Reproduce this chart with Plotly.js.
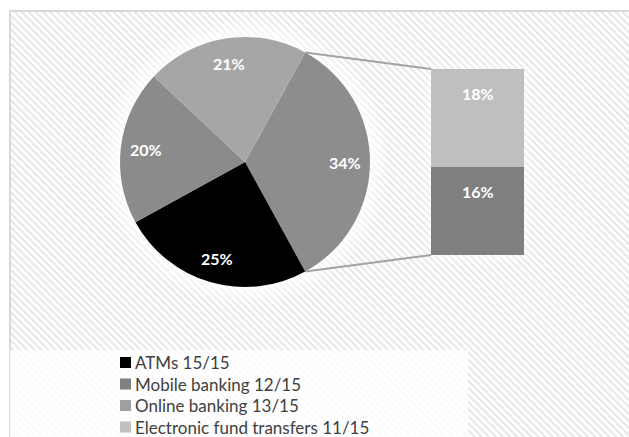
<!DOCTYPE html>
<html>
<head>
<meta charset="utf-8">
<script src="https://cdn.plot.ly/plotly-3.0.1.min.js"></script>
<style>
  html, body { margin: 0; padding: 0; background: #ffffff; }
  #wrap { position: relative; width: 629px; height: 437px; overflow: hidden; }
  #frame {
    position: absolute; left: 9px; top: 10px; width: 660px; height: 460px;
    border-left: 2px solid #d9d9d9; border-top: 2px solid #d9d9d9;
    background: repeating-linear-gradient(45deg,
      #ffffff 0px, #ffffff 1.2px, #e7e7e7 2.4px, #e7e7e7 3.2px, #ffffff 4.6px, #ffffff 5px);
  }
  #glow { position: absolute; left: 0; top: 0; width: 629px; height: 437px; }
  #chart { position: absolute; left: 0; top: 0; width: 629px; height: 437px; }
</style>
</head>
<body>
<div id="wrap">
  <div id="frame"></div>
  <div id="glow"></div>
  <div id="chart"></div>
</div>
<script>
// Main pie: the "Other" slice (first) is broken out into the stacked bar
const pieLabels = ['Other', 'ATMs', 'Mobile banking', 'Online banking'];
const pieValues = [34, 25, 20, 21];
const pieColors = ['#8d8d8d', '#000000', '#8b8b8b', '#a6a6a6'];

// Breakdown bar of the "Other" slice, bottom to top
const barLabels = ['Mobile banking', 'Electronic fund transfers'];
const barValues = [16, 18];
const barColors = ['#7f7f7f', '#bfbfbf'];

// Legend entries
const legendLabels = ['ATMs 15/15', 'Mobile banking 12/15', 'Online banking 13/15', 'Electronic fund transfers 11/15'];
const legendColors = ['#000000', '#808080', '#a0a0a0', '#c0c0c0'];

const W = 629, H = 437;
const FONT = 'Lato, "Open Sans", sans-serif';

// Layout geometry (pixels)
const pieBox = { x0: 120, x1: 370, y0: 37, y1: 287 };
const barBox = { x0: 431, x1: 524, y0: 69, y1: 255 };

const px2x = p => p / W;
const px2y = p => 1 - p / H;

const pieTotal = pieValues.reduce((a, b) => a + b, 0);
const otherTotal = barValues.reduce((a, b) => a + b, 0);
// Center the split-out slice on the 3 o'clock direction
const rotation = 90 - (pieValues[0] / pieTotal) * 360 / 2;

const cx = (pieBox.x0 + pieBox.x1) / 2;
const cy = (pieBox.y0 + pieBox.y1) / 2;
const R = (pieBox.x1 - pieBox.x0) / 2;
const pointAt = (deg, rr) => {
  const a = deg * Math.PI / 180;
  return [cx + rr * Math.sin(a), cy - rr * Math.cos(a)];
};

const traces = [];
traces.push({
  type: 'pie',
  labels: pieLabels,
  values: pieValues,
  sort: false,
  direction: 'clockwise',
  rotation: rotation,
  marker: { colors: pieColors, line: { width: 0 } },
  textinfo: 'none',
  hoverinfo: 'label+percent',
  showlegend: false,
  domain: { x: [px2x(pieBox.x0), px2x(pieBox.x1)], y: [px2y(pieBox.y1), px2y(pieBox.y0)] }
});
barValues.forEach((v, i) => {
  traces.push({
    type: 'bar',
    x: [0],
    y: [v],
    name: barLabels[i],
    marker: { color: barColors[i], line: { width: 0 } },
    showlegend: false,
    hoverinfo: 'name+y',
    xaxis: 'x', yaxis: 'y'
  });
});

const annotations = [];
const shapes = [];

// Percent labels on the pie slices
let acc = rotation;
pieValues.forEach(v => {
  const span = v / pieTotal * 360;
  const mid = acc + span / 2;
  const p = pointAt(mid, R * 0.8);
  annotations.push({
    xref: 'paper', yref: 'paper', x: px2x(p[0]), y: px2y(p[1]),
    text: Math.round(v / pieTotal * 100) + '%', showarrow: false,
    xanchor: 'center', yanchor: 'middle',
    font: { family: FONT, size: 16, color: '#ffffff', weight: 700 }
  });
  acc += span;
});

// Percent labels near the top of each bar segment
let cum = 0;
barValues.forEach(v => {
  cum += v;
  annotations.push({
    xref: 'x', yref: 'y', x: 0, y: cum, yshift: -24,
    text: Math.round(v / pieTotal * 100) + '%', showarrow: false,
    xanchor: 'center', yanchor: 'middle',
    font: { family: FONT, size: 16, color: '#ffffff', weight: 700 }
  });
});

// Connector lines from the split slice edges to the bar corners
const sliceSpan = pieValues[0] / pieTotal * 360;
const pTop = pointAt(rotation, R);
const pBot = pointAt(rotation + sliceSpan, R);
[[pTop, barBox.y0], [pBot, barBox.y1]].forEach(([p, by]) => {
  shapes.push({
    type: 'line', xref: 'paper', yref: 'paper', layer: 'below',
    x0: px2x(p[0]), y0: px2y(p[1]), x1: px2x(barBox.x0), y1: px2y(by),
    line: { color: '#a3a3a3', width: 2 }
  });
});

// Legend panel
shapes.push({
  type: 'rect', xref: 'paper', yref: 'paper', layer: 'below',
  x0: px2x(10), x1: px2x(468), y0: px2y(H + 5), y1: px2y(350),
  fillcolor: 'rgba(255,255,255,0.8)', line: { width: 0 }
});
const legTop = 362.5, legStep = 21.5, sq = 11, sqX = 120;
legendLabels.forEach((t, i) => {
  const yc = legTop + i * legStep;
  shapes.push({
    type: 'rect', xref: 'paper', yref: 'paper',
    x0: px2x(sqX), x1: px2x(sqX + sq), y0: px2y(yc + sq / 2), y1: px2y(yc - sq / 2),
    fillcolor: legendColors[i], line: { width: 0 }
  });
  annotations.push({
    xref: 'paper', yref: 'paper', x: px2x(sqX + sq + 2), y: px2y(yc),
    text: t, showarrow: false, xanchor: 'left', yanchor: 'middle',
    font: { family: FONT, size: 17, color: '#404040' }
  });
});

// Soft light halo behind the pie and the bar
document.getElementById('glow').style.background =
  'radial-gradient(circle at ' + cx + 'px ' + cy + 'px, rgba(255,255,255,0.75) ' + (R) + 'px, rgba(255,255,255,0) ' + (R + 20) + 'px)';
const halo = document.createElement('div');
halo.style.cssText = 'position:absolute;left:' + barBox.x0 + 'px;top:' + barBox.y0 + 'px;width:' +
  (barBox.x1 - barBox.x0) + 'px;height:' + (barBox.y1 - barBox.y0) +
  'px;box-shadow:0 0 12px 2px rgba(255,255,255,0.6);';
document.getElementById('glow').appendChild(halo);

const layout = {
  width: W, height: H,
  margin: { l: 0, r: 0, t: 0, b: 0, pad: 0 },
  paper_bgcolor: 'rgba(0,0,0,0)',
  plot_bgcolor: 'rgba(0,0,0,0)',
  barmode: 'stack',
  bargap: 0,
  showlegend: false,
  xaxis: {
    domain: [px2x(barBox.x0), px2x(barBox.x1)], range: [-0.5, 0.5],
    visible: false, fixedrange: true
  },
  yaxis: {
    domain: [px2y(barBox.y1), px2y(barBox.y0)], range: [0, otherTotal],
    visible: false, fixedrange: true
  },
  annotations: annotations,
  shapes: shapes,
  font: { family: FONT }
};

Plotly.newPlot('chart', traces, layout, { displayModeBar: false, staticPlot: true });
</script>
</body>
</html>
